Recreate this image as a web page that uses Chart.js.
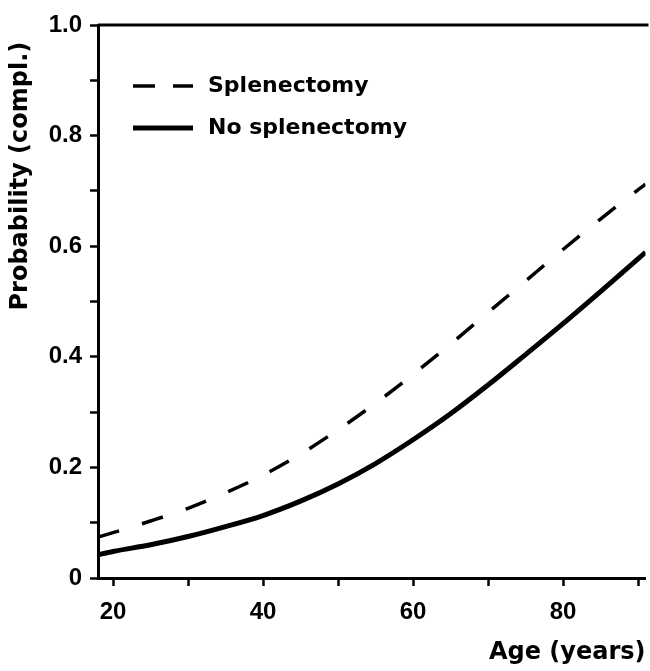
<!DOCTYPE html>
<html>
<head>
<meta charset="utf-8">
<script src="https://cdn.jsdelivr.net/npm/chart.js@4/dist/chart.umd.min.js"></script>
<style>
  html, body { margin: 0; padding: 0; background: #fff; }
</style>
</head>
<body>
<canvas id="myChart" width="650" height="671"></canvas>
<script>
const ages = [18, 20, 25, 30, 35, 40, 45, 50, 55, 60, 65, 70, 75, 80, 85, 90, 91];
const splenectomy = [0.074, 0.082, 0.103, 0.126, 0.154, 0.186, 0.224, 0.268, 0.316, 0.368, 0.423, 0.48, 0.537, 0.594, 0.649, 0.702, 0.712];
const noSplenectomy = [0.042, 0.048, 0.06, 0.075, 0.093, 0.113, 0.139, 0.17, 0.207, 0.25, 0.297, 0.349, 0.404, 0.46, 0.518, 0.577, 0.589];

const xTicks = [20, 30, 40, 50, 60, 70, 80, 90];
const xTickLabels = ["20", "", "40", "", "60", "", "80", ""];
const yTicks = [0, 0.1, 0.2, 0.3, 0.4, 0.5, 0.6, 0.7, 0.8, 0.9, 1.0];
const yTickLabels = ["0", "", "0.2", "", "0.4", "", "0.6", "", "0.8", "", "1.0"];

const TICK_FAMILY = "'Liberation Sans', Arial, sans-serif";
const TEXT_FAMILY = "'DejaVu Sans', sans-serif";
const tickFont = { family: TICK_FAMILY, size: 24, weight: "bold" };

// frame line along the top of the plot
const topFrame = {
  id: "topFrame",
  afterDraw(chart) {
    const { ctx, chartArea } = chart;
    ctx.save();
    ctx.strokeStyle = "#000";
    ctx.lineWidth = 3;
    ctx.beginPath();
    ctx.moveTo(chartArea.left, chartArea.top);
    ctx.lineTo(chartArea.right + 3, chartArea.top);
    ctx.stroke();
    ctx.restore();
  }
};

// legend drawn inside the plot, top-left
const insideLegend = {
  id: "insideLegend",
  afterDraw(chart, args, opts) {
    const { ctx } = chart;
    ctx.save();
    ctx.font = "bold 22px " + TEXT_FAMILY;
    ctx.fillStyle = "#000";
    ctx.textBaseline = "middle";
    chart.data.datasets.forEach((ds, i) => {
      const y = opts.y + i * opts.rowGap;
      ctx.strokeStyle = ds.borderColor;
      ctx.lineWidth = ds.borderWidth;
      ctx.setLineDash(ds.borderDash ? [22, 18] : []);
      ctx.beginPath();
      ctx.moveTo(opts.x, y);
      ctx.lineTo(opts.x + opts.sample, y);
      ctx.stroke();
      ctx.setLineDash([]);
      ctx.fillText(ds.label, opts.x + opts.sample + opts.gap, y);
    });
    ctx.restore();
  }
};

new Chart("myChart", {
  type: "line",
  data: {
    datasets: [
      {
        label: "Splenectomy",
        data: ages.map((a, i) => ({ x: a, y: splenectomy[i] })),
        borderColor: "#000",
        borderWidth: 3.5,
        borderDash: [22, 24],
        fill: false,
        pointRadius: 0,
        cubicInterpolationMode: "monotone",
      },
      {
        label: "No splenectomy",
        data: ages.map((a, i) => ({ x: a, y: noSplenectomy[i] })),
        borderColor: "#000",
        borderWidth: 5,
        fill: false,
        pointRadius: 0,
        cubicInterpolationMode: "monotone",
      },
    ],
  },
  options: {
    responsive: false,
    animation: false,
    layout: { padding: { top: 25, right: 0, left: 0, bottom: 0 } },
    plugins: {
      legend: { display: false },
      tooltip: { enabled: false },
      insideLegend: { x: 133, y: 86, rowGap: 42, sample: 60, gap: 15 },
    },
    scales: {
      x: {
        type: "linear",
        min: 18,
        max: 91,
        afterBuildTicks: (s) => { s.ticks = xTicks.map((v) => ({ value: v })); },
        afterFit: (s) => { s.height = 93; },
        ticks: {
          callback: (v, i) => xTickLabels[i],
          font: tickFont,
          color: "#000",
          padding: 12,
          maxRotation: 0,
          autoSkip: false,
        },
        grid: { drawOnChartArea: false, drawTicks: true, tickLength: 8, tickWidth: 2.5, tickColor: "#000" },
        border: { color: "#000", width: 3 },
        title: {
          display: true,
          text: "Age (years)",
          align: "end",
          color: "#000",
          font: { family: TEXT_FAMILY, size: 24, weight: "bold" },
          padding: { top: 0, bottom: 4 },
        },
      },
      y: {
        min: 0,
        max: 1,
        afterBuildTicks: (s) => { s.ticks = yTicks.map((v) => ({ value: v })); },
        afterFit: (s) => { s.width = 98; },
        ticks: {
          callback: (v, i) => yTickLabels[i],
          font: tickFont,
          color: "#000",
          padding: 8,
          autoSkip: false,
        },
        grid: { drawOnChartArea: false, drawTicks: true, tickLength: 8, tickWidth: 2.5, tickColor: "#000" },
        border: { color: "#000", width: 3 },
        title: {
          display: true,
          text: "Probability (compl.)  ",
          align: "end",
          color: "#000",
          font: { family: TEXT_FAMILY, size: 24, weight: "bold" },
          padding: { top: 6, bottom: 0 },
        },
      },
    },
  },
  plugins: [topFrame, insideLegend],
});
</script>
</body>
</html>
